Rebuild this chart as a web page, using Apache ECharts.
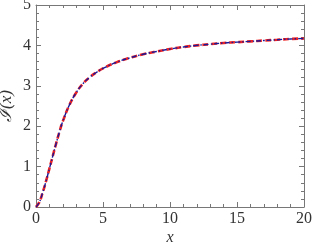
<!DOCTYPE html>
<html><head><meta charset="utf-8">
<script src="https://cdn.jsdelivr.net/npm/echarts@6/dist/echarts.min.js"></script>
<style>html,body{margin:0;padding:0;background:#fff}#c{width:312px;height:243px}</style>
</head><body><div id="c"></div>
<script>
const xVals = [0,0.25,0.5,0.75,1,1.25,1.5,1.75,2,2.5,3,3.5,4,4.5,5,6,7,8,9,10,11,12,13,14,15,16,17,18,19,20];
const yVals = [0,0.12,0.36,0.64,0.95,1.26,1.57,1.86,2.12,2.53,2.83,3.05,3.21,3.33,3.43,3.58,3.69,3.78,3.85,3.91,3.96,4.00,4.03,4.06,4.08,4.10,4.12,4.14,4.16,4.17];
const xTicks = [0,5,10,15,20];
const yTicks = [0,1,2,3,4,5];
const xTitle = 'x';
const yTitle = 'ℐ(x)';

const pts = xVals.map((x,i)=>[x,yVals[i]]);
const font = "'Liberation Serif', serif";
const axisCol = '#777';
const txtCol = '#333';
const chart = echarts.init(document.getElementById('c'), null, {renderer:'canvas'});
function xa(show, pos){
  return {type:'value', min:0, max:20, interval:5, position:pos,
    name: show?xTitle:'', nameLocation:'middle', nameGap:23, nameMoveOverlap:false,
    nameTextStyle:{fontFamily:font, fontStyle:'italic', fontSize:16, color:txtCol},
    axisLine:{show:true, onZero:false, lineStyle:{color:axisCol, width:1}},
    axisTick:{show:true, inside:true, length:5, lineStyle:{color:axisCol}},
    minorTick:{show:true, splitNumber:5, length:3, lineStyle:{color:axisCol}},
    axisLabel:{show:show, fontFamily:font, fontSize:16, color:txtCol, margin:4,
      formatter:v=>xTicks.includes(v)?String(v):''},
    splitLine:{show:false}};
}
function ya(show, pos){
  return {type:'value', min:0, max:5, interval:1, position:pos,
    name: show?yTitle:'', nameLocation:'middle', nameGap:21, nameRotate:90, nameMoveOverlap:false,
    nameTextStyle:{fontFamily:font, fontStyle:'italic', fontSize:17, color:txtCol},
    axisLine:{show:true, onZero:false, lineStyle:{color:axisCol, width:1}},
    axisTick:{show:true, inside:true, length:5, lineStyle:{color:axisCol}},
    minorTick:{show:true, splitNumber:5, length:3, lineStyle:{color:axisCol}},
    axisLabel:{show:show, fontFamily:font, fontSize:16, color:txtCol, margin:5,
      formatter:v=>yTicks.includes(v)?String(v):''},
    splitLine:{show:false}};
}
chart.setOption({
  animation:false,
  grid:{left:36, right:8, top:5, bottom:36, containLabel:false, outerBoundsMode:'none'},
  xAxis:[xa(true,'bottom'), xa(false,'top')],
  yAxis:[ya(true,'left'), ya(false,'right')],
  series:[
    {type:'line', data:pts, smooth:true, showSymbol:false, xAxisIndex:0, yAxisIndex:0,
     lineStyle:{color:'#ee2222', width:2.6, type:[6,3]}},
    {type:'line', data:pts, smooth:true, showSymbol:false, xAxisIndex:0, yAxisIndex:0,
     lineStyle:{color:'#1a1a99', width:1.4, type:[5,2,1.5,2]}}
  ]
});
</script></body></html>
